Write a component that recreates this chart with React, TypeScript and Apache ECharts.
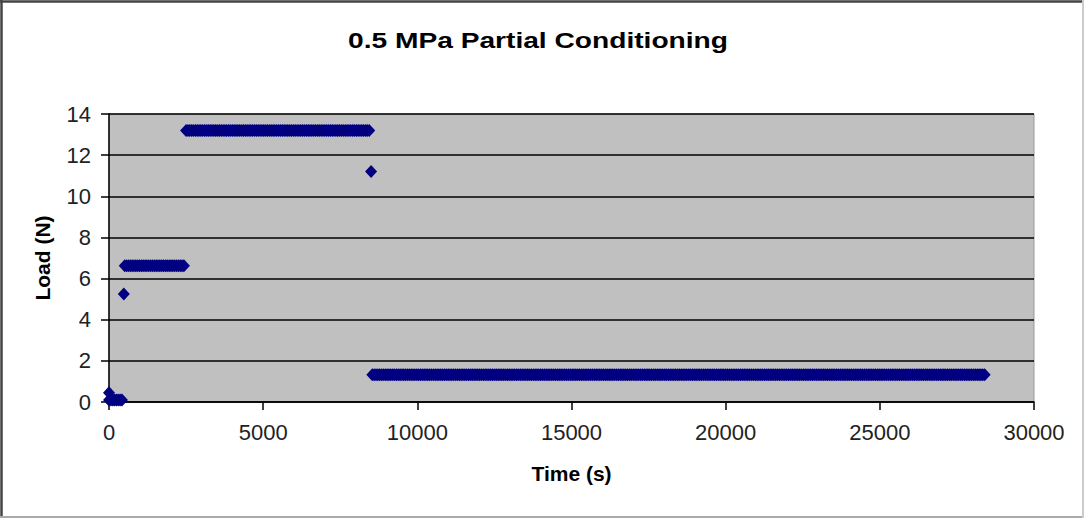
import React, { useEffect, useRef } from "react";
import * as echarts from "echarts";

// Load plateaus of the conditioning run: start time (s), end time (s), load (N)
const plateauStart = [0, 510, 2500, 8540];
const plateauEnd = [450, 2470, 8450, 28400];
const plateauLoad = [0.1, 6.62, 13.2, 1.32];
const sampleStep = 60; // logger interval, s

// Single readings taken during load changes
const singleTime = [0, 480, 8500];
const singleLoad = [0.45, 5.25, 11.2];

// Axis ticks
const xTicks = [0, 5000, 10000, 15000, 20000, 25000, 30000];
const yTicks = [0, 2, 4, 6, 8, 10, 12, 14];

const FONT = "Arial, 'Liberation Sans', sans-serif";

function buildPoints(): [number, number][] {
  const pts: [number, number][] = [];
  singleTime.forEach((t, i) => pts.push([t, singleLoad[i]]));
  plateauStart.forEach((s, i) => {
    for (let t = s; t <= plateauEnd[i]; t += sampleStep) {
      pts.push([t, plateauLoad[i]]);
    }
  });
  return pts.sort((a, b) => a[0] - b[0]);
}

export default function App() {
  const ref = useRef<HTMLDivElement>(null);

  useEffect(() => {
    document.body.style.margin = "0";
    const chart = echarts.init(ref.current!, null, { renderer: "svg" });
    chart.setOption({
      animation: false,
      backgroundColor: "#ffffff",
      grid: {
        left: 109,
        right: 50,
        top: 114,
        bottom: 116,
        show: true,
        backgroundColor: "#c0c0c0",
        borderColor: "#9a9a9a",
        borderWidth: 1,
      },
      xAxis: {
        type: "value",
        min: xTicks[0],
        max: xTicks[xTicks.length - 1],
        interval: xTicks[1] - xTicks[0],
        name: "Time (s)",
        nameLocation: "middle",
        nameGap: 61,
        nameTextStyle: {
          fontFamily: FONT,
          fontSize: 21,
          fontWeight: "bold",
          color: "#000",
        },
        axisLine: { lineStyle: { color: "#000", width: 1.5 } },
        axisTick: { show: true, length: 8, inside: false, lineStyle: { color: "#000", width: 1.5 } },
        axisLabel: {
          fontFamily: FONT,
          fontSize: 22,
          color: "#222",
          margin: 19,
          formatter: (v: number) => String(v),
        },
        splitLine: { show: false },
      },
      yAxis: {
        type: "value",
        min: yTicks[0],
        max: yTicks[yTicks.length - 1],
        interval: yTicks[1] - yTicks[0],
        name: "Load (N)",
        nameLocation: "middle",
        nameGap: 56,
        nameTextStyle: {
          fontFamily: FONT,
          fontSize: 21,
          fontWeight: "bold",
          color: "#000",
        },
        axisLine: { show: true, lineStyle: { color: "#000", width: 1.5 } },
        axisTick: { show: true, length: 8, lineStyle: { color: "#000", width: 1.5 } },
        axisLabel: {
          fontFamily: FONT,
          fontSize: 22,
          color: "#222",
          margin: 18,
          formatter: (v: number) => String(v),
        },
        splitLine: { show: true, lineStyle: { color: "#000", width: 1.5 } },
      },
      series: [
        {
          type: "scatter",
          data: buildPoints(),
          symbol: "diamond",
          symbolSize: [12, 13],
          itemStyle: { color: "#000080", opacity: 1 },
          clip: false,
        },
      ],
      graphic: [
        {
          type: "text",
          x: 538,
          y: 40,
          scaleX: 1.28,
          style: {
            text: "0.5 MPa Partial Conditioning",
            x: 0,
            y: 0,
            textAlign: "center",
            textVerticalAlign: "middle",
            fontFamily: FONT,
            fontSize: 22,
            fontWeight: "bold",
            fill: "#000",
          },
        },
        { type: "line", shape: { x1: 0, y1: 1.5, x2: 1084, y2: 1.5 }, style: { stroke: "#444", lineWidth: 2.5 } },
        { type: "line", shape: { x1: 1.5, y1: 0, x2: 1.5, y2: 518 }, style: { stroke: "#444", lineWidth: 2.5 } },
        { type: "line", shape: { x1: 0, y1: 517, x2: 1084, y2: 517 }, style: { stroke: "#aaa", lineWidth: 2 } },
        { type: "line", shape: { x1: 1083, y1: 0, x2: 1083, y2: 518 }, style: { stroke: "#ccc", lineWidth: 2 } },
      ],
    });
    return () => chart.dispose();
  }, []);

  return (
    <div
      ref={ref}
      style={{ position: "absolute", left: 0, top: 0, width: 1084, height: 518 }}
    />
  );
}
